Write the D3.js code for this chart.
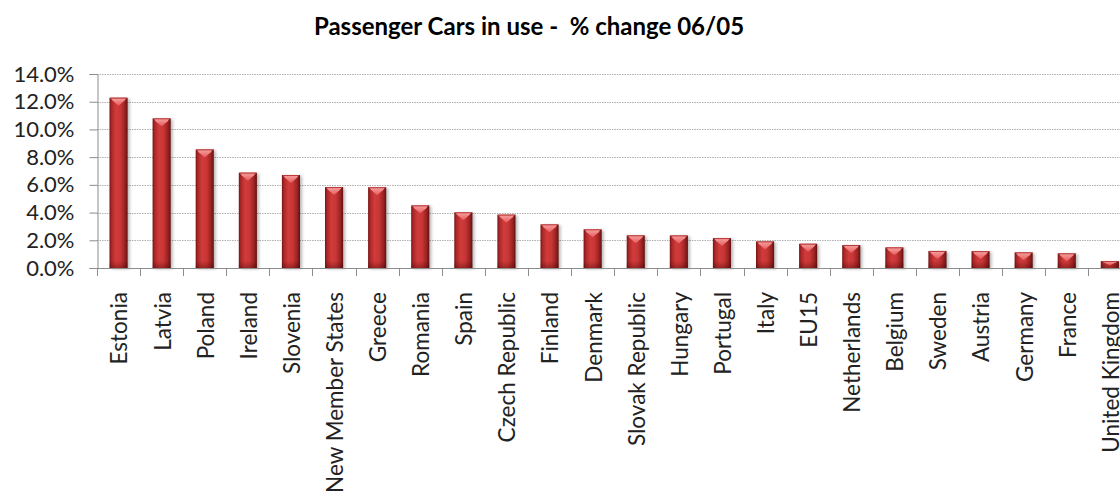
<!DOCTYPE html>
<html>
<head>
<meta charset="utf-8">
<script src="https://cdn.jsdelivr.net/npm/d3@7"></script>
<style>
  html, body { margin: 0; padding: 0; background: #fff; overflow: hidden; }
  svg { display: block; }
</style>
</head>
<body>
<svg id="chart" width="1120" height="499"></svg>
<script>
// Passenger cars in use, % change 2006 vs 2005
const countries = [
  "Estonia", "Latvia", "Poland", "Ireland", "Slovenia", "New Member States",
  "Greece", "Romania", "Spain", "Czech Republic", "Finland", "Denmark",
  "Slovak Republic", "Hungary", "Portugal", "Italy", "EU15", "Netherlands",
  "Belgium", "Sweden", "Austria", "Germany", "France", "United Kingdom"
];
const changes = [
  0.1229, 0.1080, 0.0856, 0.0688, 0.0671, 0.0584,
  0.0583, 0.0452, 0.0402, 0.0385, 0.0315, 0.0279,
  0.0236, 0.0235, 0.0216, 0.0192, 0.0175, 0.0166,
  0.0149, 0.0123, 0.0122, 0.0113, 0.0106, 0.0050
];
const yTicks = [0, 0.02, 0.04, 0.06, 0.08, 0.10, 0.12, 0.14];
const chartTitle = "Passenger Cars in use -  % change 06/05";

const svg = d3.select("#chart");
const W = 1120;
const left = 97, zeroY = 268, topY = 74, step = 43.1;

const x = d3.scaleBand()
  .domain(countries)
  .range([left, left + countries.length * step])
  .paddingInner(0.58)
  .paddingOuter(0.29);

const y = d3.scaleLinear().domain([0, 0.14]).range([zeroY, topY]);

// gradients and shadow
const defs = svg.append("defs");
const body = defs.append("linearGradient").attr("id", "barBody")
  .attr("x1", "0").attr("x2", "1").attr("y1", "0").attr("y2", "0");
[[0, "#741414"], [0.12, "#ad2828"], [0.35, "#d03b3b"], [0.6, "#c93636"], [0.85, "#992222"], [1, "#621010"]]
  .forEach(([o, c]) => body.append("stop").attr("offset", o).attr("stop-color", c));

const cap = defs.append("linearGradient").attr("id", "barCap")
  .attr("x1", "0").attr("x2", "0").attr("y1", "0").attr("y2", "1");
[[0, "#f6a4a4"], [1, "#e85a5a"]]
  .forEach(([o, c]) => cap.append("stop").attr("offset", o).attr("stop-color", c));

const foot = defs.append("linearGradient").attr("id", "barFoot")
  .attr("x1", "0").attr("x2", "0").attr("y1", "0").attr("y2", "1");
[[0, "rgba(60,0,0,0)"], [1, "rgba(60,0,0,0.35)"]]
  .forEach(([o, c]) => foot.append("stop").attr("offset", o).attr("stop-color", c));

const shadow = defs.append("filter").attr("id", "soft")
  .attr("x", "-50%").attr("y", "-50%").attr("width", "200%").attr("height", "200%");
shadow.append("feGaussianBlur").attr("stdDeviation", 1.6);

// title
svg.append("text")
  .attr("x", 529).attr("y", 35)
  .attr("text-anchor", "middle")
  .attr("font-family", "Lato, 'Open Sans', sans-serif")
  .attr("font-weight", "bold")
  .attr("font-size", 24)
  .attr("fill", "#000")
  .style("white-space", "pre")
  .text(chartTitle);

// dotted gridlines
svg.append("g").selectAll("line")
  .data(yTicks.slice(1))
  .join("line")
  .attr("x1", left).attr("x2", W)
  .attr("y1", d => Math.round(y(d)) + 0.5).attr("y2", d => Math.round(y(d)) + 0.5)
  .attr("stroke", "#b0b0b0")
  .attr("stroke-width", 1)
  .attr("stroke-dasharray", "1.5,1");

// y axis
const yAxis = svg.append("g")
  .attr("transform", `translate(${left + 0.5},0)`)
  .call(d3.axisLeft(y).tickValues(yTicks).tickFormat(d3.format(".1%")).tickSize(8).tickPadding(15));
yAxis.select(".domain").attr("stroke", "#8c8c8c");
yAxis.selectAll(".tick line").attr("stroke", "#8c8c8c");
yAxis.selectAll(".tick text")
  .attr("font-family", "Lato, 'Open Sans', sans-serif")
  .attr("font-size", 22)
  .attr("fill", "#222");

// bars
const bars = svg.append("g").selectAll("g")
  .data(countries.map((c, i) => ({ c, v: changes[i] })))
  .join("g");

bars.append("rect")
  .attr("x", d => x(d.c) + 2)
  .attr("y", d => y(d.v) + 1)
  .attr("width", x.bandwidth())
  .attr("height", d => zeroY - y(d.v))
  .attr("fill", "rgba(0,0,0,0.28)")
  .attr("filter", "url(#soft)");

bars.append("rect")
  .attr("x", d => x(d.c))
  .attr("y", d => y(d.v))
  .attr("width", x.bandwidth())
  .attr("height", d => zeroY - y(d.v))
  .attr("fill", "url(#barBody)");

bars.append("rect")
  .attr("x", d => x(d.c))
  .attr("y", d => Math.max(y(d.v), zeroY - 7))
  .attr("width", x.bandwidth())
  .attr("height", d => Math.min(7, zeroY - y(d.v)))
  .attr("fill", "url(#barFoot)");

// bevelled top
bars.append("path")
  .attr("d", d => {
    const x0 = x(d.c), x1 = x0 + x.bandwidth(), t = y(d.v);
    const h = Math.min(8, (zeroY - t) * 0.6);
    const xc = (x0 + x1) / 2;
    return `M${x0 + 1},${t} L${x1 - 1},${t} L${x1 - 3},${t + h * 0.35} L${xc},${t + h} L${x0 + 3},${t + h * 0.35} Z`;
  })
  .attr("fill", "url(#barCap)");

bars.append("line")
  .attr("x1", d => x(d.c) + 1).attr("x2", d => x(d.c) + x.bandwidth() - 1)
  .attr("y1", d => y(d.v) + 0.5).attr("y2", d => y(d.v) + 0.5)
  .attr("stroke", "#b83838").attr("stroke-width", 1);

// x axis with ticks between categories
const xAxis = svg.append("g");
xAxis.append("line")
  .attr("x1", left).attr("x2", W)
  .attr("y1", zeroY + 0.5).attr("y2", zeroY + 0.5)
  .attr("stroke", "#8c8c8c");
xAxis.selectAll("line.tk")
  .data(countries)
  .join("line").attr("class", "tk")
  .attr("x1", d => Math.round(x(d) - x.step() * x.paddingOuter()) + 0.5)
  .attr("x2", d => Math.round(x(d) - x.step() * x.paddingOuter()) + 0.5)
  .attr("y1", zeroY).attr("y2", zeroY + 8)
  .attr("stroke", "#8c8c8c");

xAxis.selectAll("text")
  .data(countries)
  .join("text")
  .attr("transform", d => `translate(${x(d) + x.bandwidth() / 2 + 1},${zeroY + 24}) rotate(-90)`)
  .attr("text-anchor", "end")
  .attr("dy", "0.35em")
  .attr("font-family", "Lato, 'Open Sans', sans-serif")
  .attr("font-size", 22.5)
  .attr("fill", "#222")
  .text(d => d);
</script>
</body>
</html>
